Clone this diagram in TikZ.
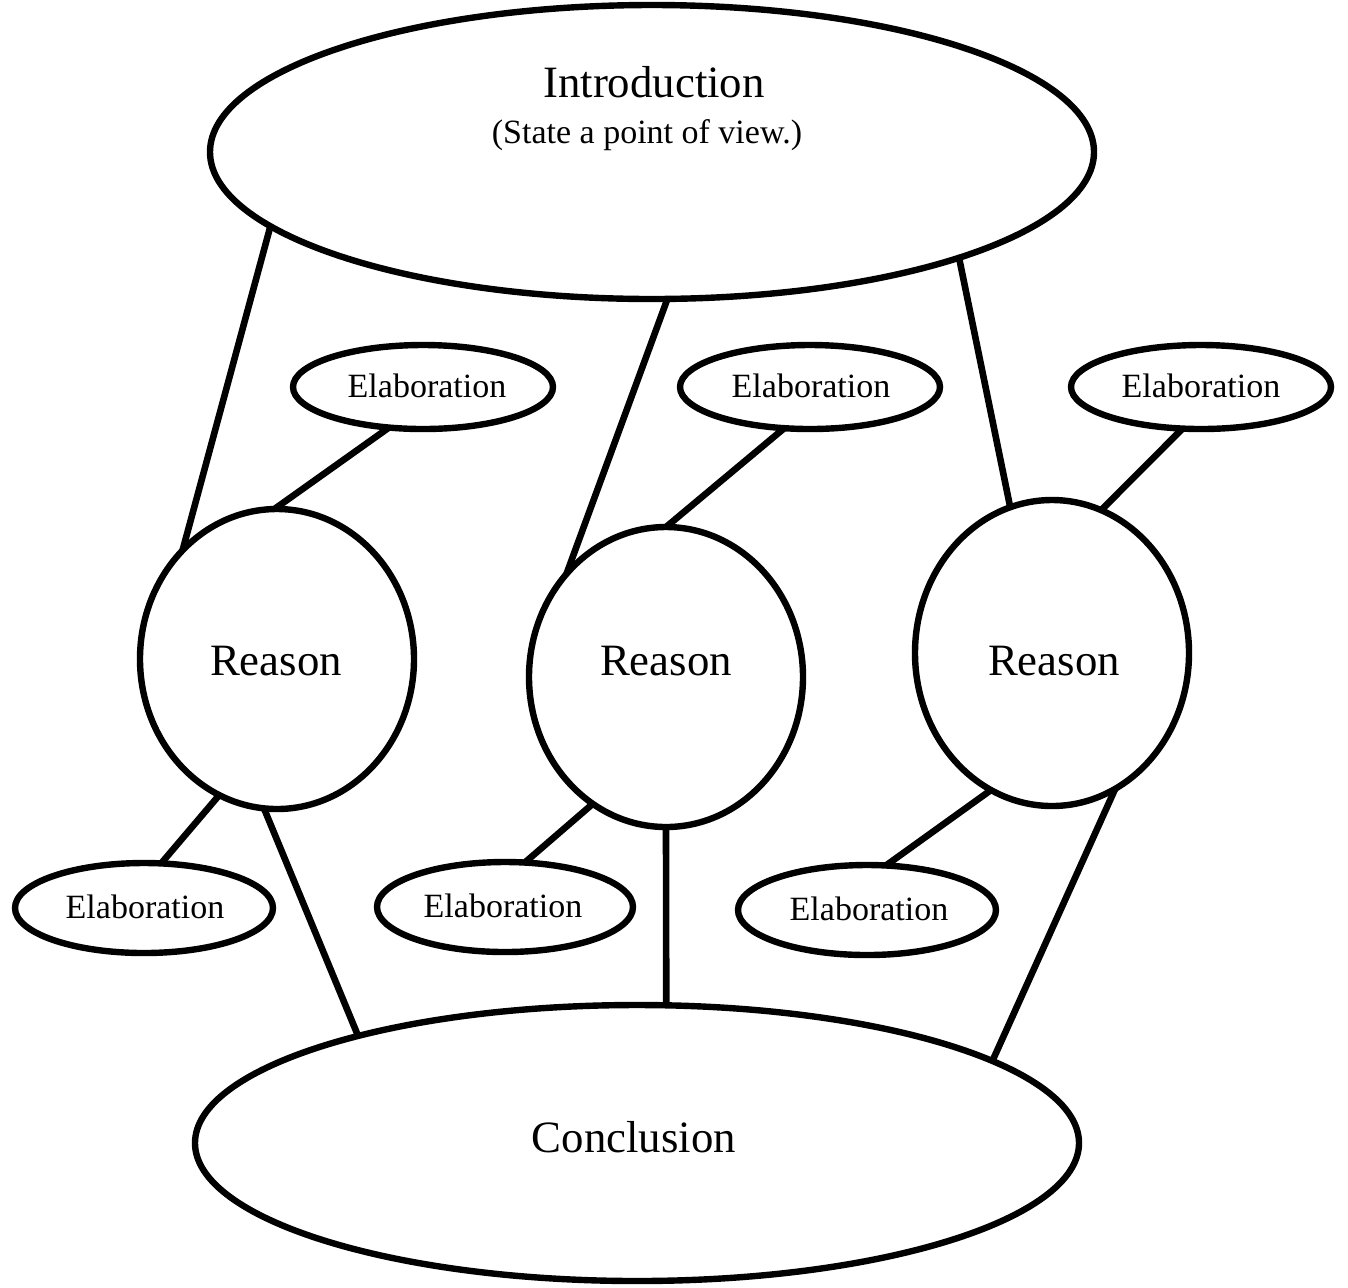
\documentclass[tikz,border=0pt]{standalone}
\usepackage{fontspec}
\setmainfont{Liberation Serif}
\usetikzlibrary{shapes.geometric}
\begin{document}
\begin{tikzpicture}[x=0.5pt,y=-0.5pt,
  oval/.style={draw=black,line width=3.2pt,ellipse,inner sep=0pt,outer sep=0pt},
  conn/.style={draw=black,line width=3.3pt},
  bigtxt/.style={inner sep=0pt,anchor=base,font=\fontsize{22.4}{26}\selectfont},
  smalltxt/.style={inner sep=0pt,anchor=base,font=\fontsize{17}{20}\selectfont}]
\useasboundingbox (0,0) rectangle (1348,1287);
% shapes
\node[oval,minimum width=442pt,minimum height=147pt] (intro) at (652,152) {};
\node[oval,minimum width=442pt,minimum height=138pt] (conc) at (637,1143) {};
\node[oval,minimum width=137pt,minimum height=150pt] (r1) at (277,659) {};
\node[oval,minimum width=137pt,minimum height=150pt] (r2) at (666,677) {};
\node[oval,minimum width=137pt,minimum height=153pt] (r3) at (1052,653) {};
\node[oval,minimum width=130pt,minimum height=42pt] (e1) at (423,387) {};
\node[oval,minimum width=130pt,minimum height=42pt] (e2) at (810,387) {};
\node[oval,minimum width=130pt,minimum height=42pt] (e3) at (1201,387) {};
\node[oval,minimum width=129pt,minimum height=45pt] (b1) at (144,908) {};
\node[oval,minimum width=128pt,minimum height=45pt] (b2) at (505,907) {};
\node[oval,minimum width=129pt,minimum height=45pt] (b3) at (867,910) {};
% texts
\node[bigtxt] (tintro) at (654,97) {Introduction};
\node[smalltxt] (tintrosub) at (647,143) {(State a point of view.)};
\node[bigtxt] (tconc) at (634,1152) {Conclusion};
\node[bigtxt] (tr1) at (276,675) {Reason};
\node[bigtxt] (tr2) at (666,675) {Reason};
\node[bigtxt] (tr3) at (1054,675) {Reason};
\node[smalltxt] (te1) at (427,397) {Elaboration};
\node[smalltxt] (te2) at (811,397) {Elaboration};
\node[smalltxt] (te3) at (1201,397) {Elaboration};
\node[smalltxt] (tb1) at (145,918) {Elaboration};
\node[smalltxt] (tb2) at (503,917) {Elaboration};
\node[smalltxt] (tb3) at (869,920) {Elaboration};
% connectors
\draw[conn] (intro.191.7) -- (r1.131.7);
\draw[conn] (intro.276.1) -- (r2.134.7);
\draw[conn] (intro.341.3) -- (r3.106.1);
\draw[conn] (e1.230.6) -- (r1.91.1);
\draw[conn] (e2.238.3) -- (r2.90);
\draw[conn] (e3.246.8) -- (r3.71.6);
\draw[conn] (r1.247.9) -- (b1.69.2);
\draw[conn] (r2.240.6) -- (b2.66.7);
\draw[conn] (r3.246.4) -- (b3.67.3);
\draw[conn] (r1.265.5) -- (conc.159.3);
\draw[conn] (r2.270) -- (conc.78.1);
\draw[conn] (r3.295.9) -- (conc.13.7);
\end{tikzpicture}
\end{document}
